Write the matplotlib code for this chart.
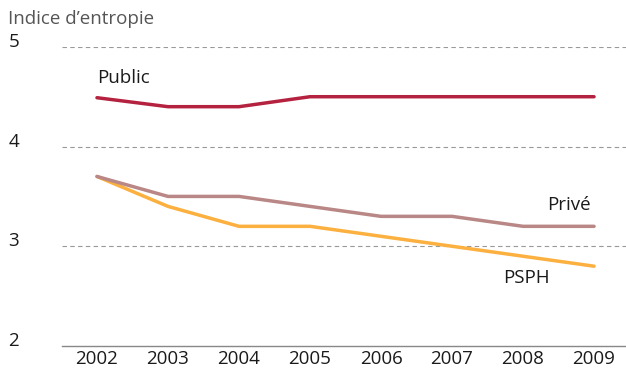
import matplotlib.pyplot as plt

plt.rcParams['font.family'] = ['Open Sans', 'DejaVu Sans']

years = [2002, 2003, 2004, 2005, 2006, 2007, 2008, 2009]
public = [4.49, 4.40, 4.40, 4.50, 4.50, 4.50, 4.50, 4.50]
prive = [3.70, 3.50, 3.50, 3.40, 3.30, 3.30, 3.20, 3.20]
psph = [3.70, 3.40, 3.20, 3.20, 3.10, 3.00, 2.90, 2.80]
y_ticks = [2, 3, 4, 5]

fig = plt.figure(figsize=(6.26, 3.72), dpi=100)
ax = fig.add_axes([0.099, 0.070, 0.901, 0.804])

# grille pointillée
for v in y_ticks[1:]:
    ax.axhline(v, color='#999999', lw=0.8, ls=(0, (4, 3)), zorder=1)

ax.plot(years, public, color='#B5223F', lw=2.5, solid_capstyle='round', zorder=3)
ax.plot(years, prive, color='#B98785', lw=2.5, solid_capstyle='round', zorder=3)
ax.plot(years, psph, color='#FBB03F', lw=2.5, solid_capstyle='round', zorder=2)

ax.set_xlim(2001.507, 2009.45)
ax.set_ylim(2, 5)

for s in ['top', 'right', 'left']:
    ax.spines[s].set_visible(False)
ax.spines['bottom'].set_color('#888888')
ax.spines['bottom'].set_linewidth(1.0)

ax.set_xticks(years)
ax.set_xticklabels([str(y) for y in years], fontsize=13.5, color='#1a1a1a')
ax.tick_params(axis='x', length=0, pad=3)
ax.set_yticks([])

# étiquettes de l'axe y
for v in y_ticks:
    ax.annotate(str(v), xy=(0, v), xycoords=('figure fraction', 'data'),
                xytext=(6, 0), textcoords='offset points', fontsize=13.5,
                color='#1a1a1a', ha='left', va='baseline')

fig.text(0.012, 0.935, "Indice d\u2019entropie", fontsize=13.5, color='#555555',
         ha='left', va='baseline')

ax.text(2002, 4.69, 'Public', fontsize=13.5, color='#1a1a1a', ha='left', va='center')
ax.text(2008.95, 3.41, 'Privé', fontsize=13.5, color='#1a1a1a', ha='right', va='center')
ax.text(2008.05, 2.68, 'PSPH', fontsize=13.5, color='#1a1a1a', ha='center', va='center')

fig.savefig('out.png', dpi=100)
